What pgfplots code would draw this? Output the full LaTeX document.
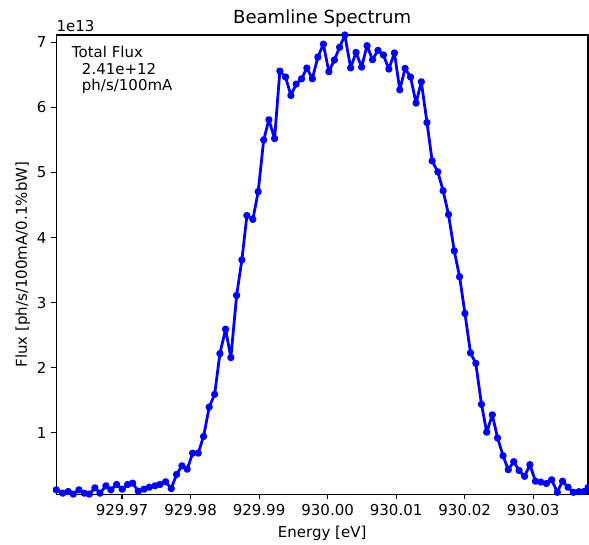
\documentclass[border=0pt]{standalone}
\usepackage{fontspec}
\setmainfont{DejaVu Sans}
\usepackage{pgfplots}
\pgfplotsset{compat=1.18}
\pgfplotstableread{
x y
-39.60 0.126
-38.66 0.074
-37.85 0.100
-37.12 0.060
-36.29 0.126
-35.51 0.074
-34.78 0.060
-33.95 0.157
-33.22 0.074
-32.35 0.188
-31.62 0.126
-30.79 0.208
-29.97 0.135
-29.18 0.208
-28.45 0.228
-27.64 0.105
-26.81 0.135
-26.03 0.166
-25.20 0.188
-24.47 0.208
-23.64 0.249
-22.82 0.146
-22.04 0.362
-21.26 0.495
-20.49 0.443
-19.70 0.689
-18.89 0.689
-18.10 0.946
-17.28 1.397
-16.49 1.592
-15.72 2.218
-14.89 2.592
-14.12 2.157
-13.28 3.111
-12.51 3.658
-11.78 4.338
-10.91 4.280
-10.13 4.705
-9.33 5.500
-8.57 5.808
-7.74 5.520
-6.97 6.557
-6.14 6.465
-5.36 6.182
-4.59 6.357
-3.80 6.438
-3.03 6.603
-2.23 6.438
-1.43 6.772
-0.62 6.969
0.18 6.546
0.98 6.726
1.75 6.922
2.51 7.110
3.36 6.605
4.15 6.843
4.96 6.618
5.75 6.946
6.55 6.731
7.35 6.874
8.14 6.803
8.93 6.588
9.75 6.834
10.53 6.269
11.31 6.597
12.10 6.465
12.90 6.065
13.67 6.392
14.50 5.766
15.25 5.177
16.08 5.008
16.85 4.720
17.64 4.354
18.48 3.795
19.26 3.397
20.04 2.834
20.85 2.228
21.62 2.069
22.45 1.438
23.22 1.012
24.03 1.277
24.80 0.923
25.60 0.649
26.36 0.435
27.16 0.558
27.93 0.423
28.74 0.334
29.52 0.512
30.33 0.258
31.10 0.246
31.93 0.223
32.70 0.280
33.51 0.088
34.28 0.258
35.08 0.166
35.87 0.088
36.67 0.097
37.43 0.100
38.00 0.162
}\spectrum
\begin{document}
\begin{tikzpicture}
\begin{axis}[
  scale only axis, width=382.8pt, height=330.5pt,
  xmin=-39.6, xmax=38.0, ymin=0.06, ymax=7.11,
  xtick={-30,-20,-10,0,10,20,30},
  xticklabels={929.97,929.98,929.99,930.00,930.01,930.02,930.03},
  ytick={1,2,3,4,5,6,7},
  yticklabels={1,2,3,4,5,6,7},
  xtick pos=bottom, ytick pos=left,
  tick align=outside, major tick length=3.5pt,
  tick style={black, line width=0.8pt},
  axis line style={line width=0.8pt},
  ticklabel style={font=\fontsize{10.8}{13}\selectfont},
  xlabel={Energy [eV]},
  ylabel={Flux [ph/s/100mA/0.1\%bW]},
  label style={font=\fontsize{10.8}{13}\selectfont},
  x label style={at={(axis description cs:0.5,-0.0947)}, anchor=base},
  y label style={at={(axis description cs:-0.0551,0.5)}, anchor=base, rotate=0},
  axis on top,
]
\addplot[blue, line width=2pt, line join=round, mark=*, mark size=1.6pt, mark options={solid, fill=blue}] table[x=x, y=y] {\spectrum};
\coordinate (SW) at (rel axis cs:0,0);
\coordinate (NE) at (rel axis cs:1,1);
\coordinate (NW) at (rel axis cs:0,1);
\coordinate (NN) at (rel axis cs:0.5,1);
\end{axis}
\node[anchor=base, inner sep=0pt, font=\fontsize{13}{15}\selectfont] at ([yshift=8pt]NN) {Beamline Spectrum};
\node[anchor=base west, inner sep=0pt, font=\fontsize{10.8}{13}\selectfont] at ([yshift=2.5pt]NW) {1e13};
\node[anchor=base west, inner sep=0pt, font=\fontsize{10.8}{13}\selectfont] at ([shift={(11.1pt,-16.1pt)}]NW) {Total Flux};
\node[anchor=base west, inner sep=0pt, font=\fontsize{10.8}{13}\selectfont] at ([shift={(18.3pt,-28.1pt)}]NW) {2.41e+12};
\node[anchor=base west, inner sep=0pt, font=\fontsize{10.8}{13}\selectfont] at ([shift={(18.3pt,-40.1pt)}]NW) {ph/s/100mA};
\pgfresetboundingbox
\path[use as bounding box] ([shift={(-40.5pt,-36pt)}]SW) rectangle ([shift={(0.7pt,25.2pt)}]NE);
\end{tikzpicture}
\end{document}
